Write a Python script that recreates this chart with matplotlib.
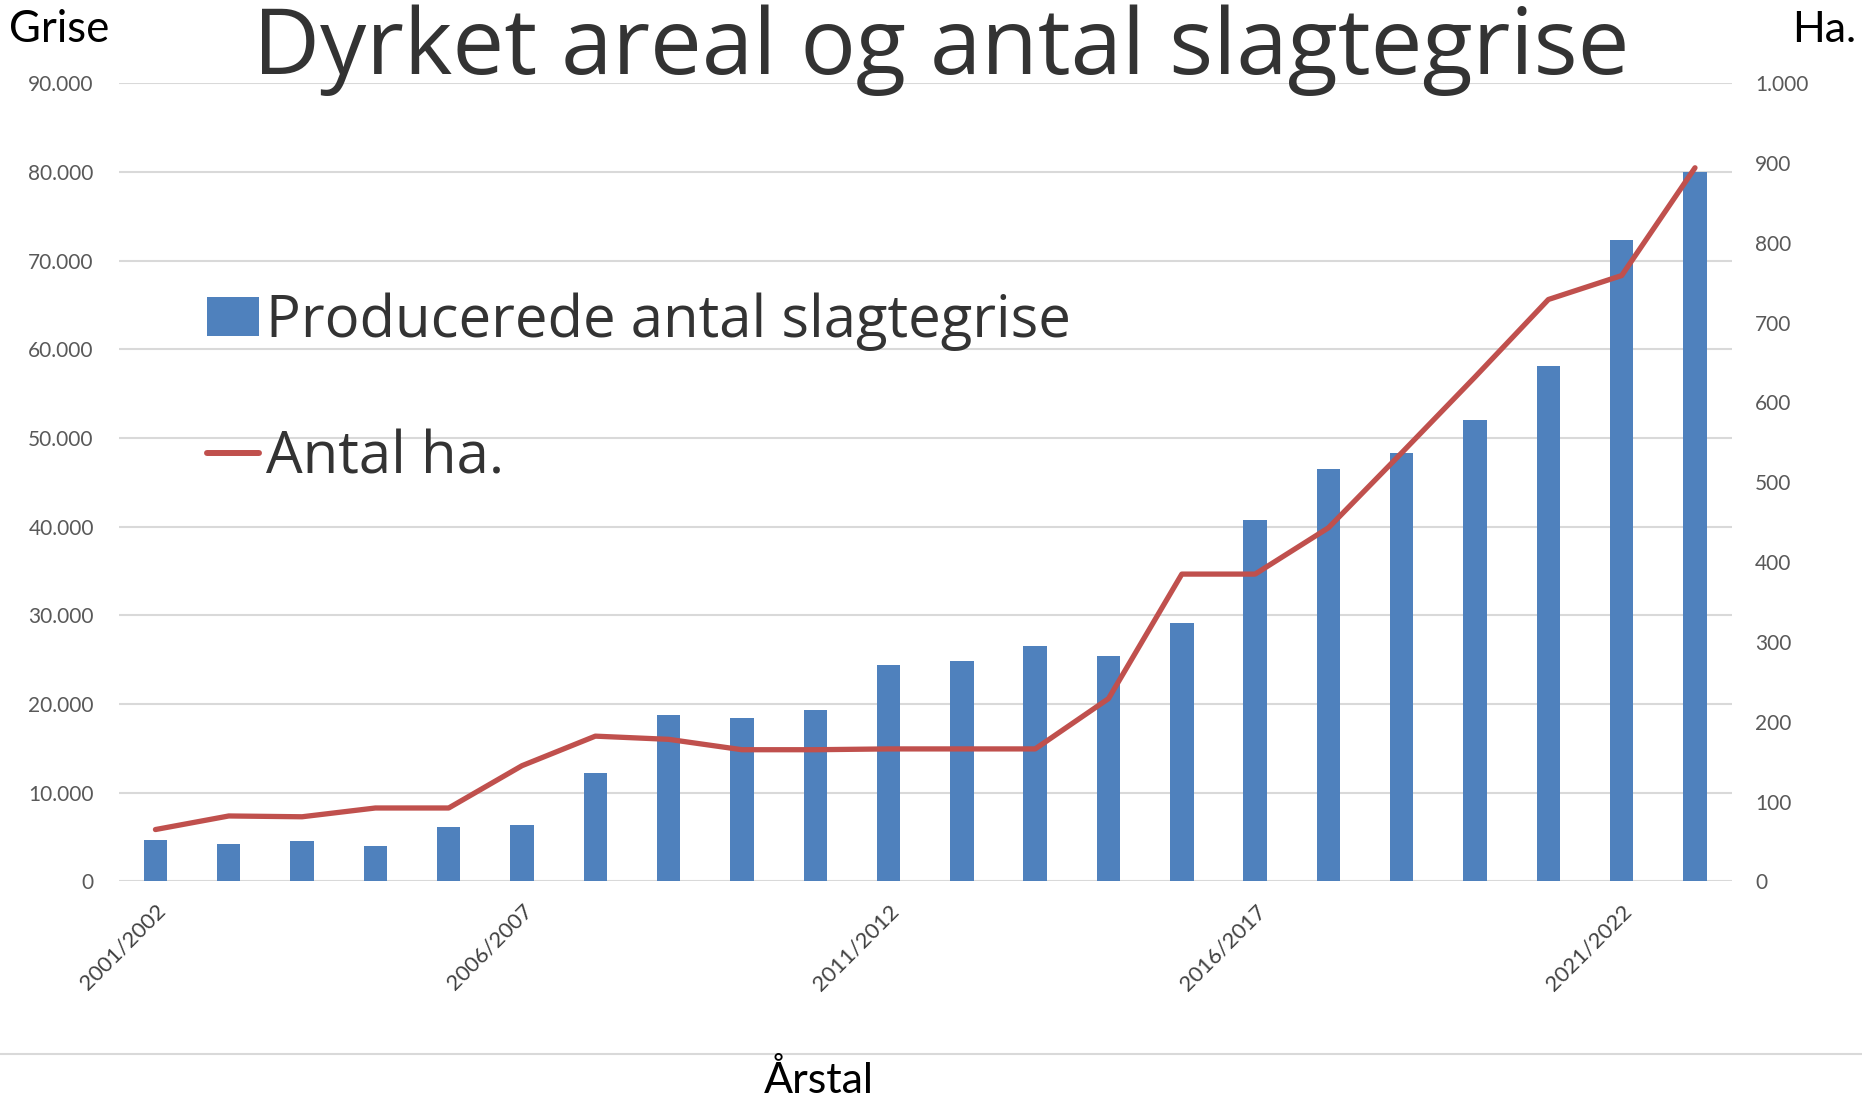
import matplotlib
matplotlib.use("Agg")
import matplotlib.pyplot as plt
from matplotlib.lines import Line2D

# Høstår 2001/2002 .. 2022/2023
seasons = [f"{y}/{y + 1}" for y in range(2001, 2023)]
slagtegrise = [4700, 4200, 4600, 4000, 6100, 6400, 12200, 18750, 18400, 19300,
               24400, 24900, 26500, 25400, 29100, 40800, 46500, 48300, 52000,
               58100, 72300, 80000]
antal_ha = [65, 82, 81, 92, 92, 145, 182, 178, 165, 165, 166, 166, 166, 229,
            385, 385, 443, 537, 632, 729, 759, 894]
tick_every = 5

bar_color = '#4F81BD'
line_color = '#C0504D'
grid_color = '#D9D9D9'

fig = plt.figure(figsize=(18.62, 11.0), dpi=100)
ax = fig.add_axes([0.0638, 0.1987, 0.8662, 0.7257])
ax2 = ax.twinx()

x = list(range(len(seasons)))
bars = ax.bar(x, slagtegrise, width=0.32, color=bar_color, zorder=2,
              label='Producerede antal slagtegrise')
line, = ax2.plot(x, antal_ha, color=line_color, lw=3.8, solid_capstyle='round',
                 label='Antal ha.', zorder=3)

ax.set_xlim(-0.5, len(seasons) - 0.5)
ax.set_ylim(0, 90000)
ax2.set_ylim(0, 1000)
ax.set_yticks(range(0, 90001, 10000))
ax.set_yticklabels([f"{v:,}".replace(',', '.') for v in range(0, 90001, 10000)])
ax2.set_yticks(range(0, 1001, 100))
ax2.set_yticklabels([f"{v:,}".replace(',', '.') for v in range(0, 1001, 100)])
ax.set_xticks(x[::tick_every])
ax.set_xticklabels(seasons[::tick_every], rotation=45, ha='right',
                   rotation_mode='anchor')

ax.grid(axis='y', color=grid_color, lw=1.5, zorder=0)
ax.set_axisbelow(True)
for a in (ax, ax2):
    for s in a.spines.values():
        s.set_visible(False)
    a.tick_params(length=0, labelsize=15, labelcolor='#595959')
    for t in a.get_yticklabels() + a.get_xticklabels():
        t.set_family('Lato')
ax.tick_params(axis='y', pad=18)
ax2.tick_params(axis='y', pad=17)
ax.tick_params(axis='x', pad=14, labelcolor='#404040', labelsize=15.8)

fig.text(0.5054, 0.933, 'Dyrket areal og antal slagtegrise', ha='center',
         va='baseline', fontsize=66.4, color='#333333', family='Open Sans')
fig.text(0.005, 0.962, 'Grise', ha='left', va='baseline', fontsize=31.5,
         color='black', family='Lato')
fig.text(0.997, 0.962, 'Ha.', ha='right', va='baseline', fontsize=31,
         color='black', family='Lato')
fig.text(0.44, 0.006, 'Årstal', ha='center', va='baseline', fontsize=31,
         color='black', family='Lato')
fig.add_artist(Line2D([0, 1], [0.042, 0.042], color=grid_color, lw=1.5))

leg = ax.legend([bars, line], ['Producerede antal slagtegrise', 'Antal ha.'],
                loc='upper left', bbox_to_anchor=(0.022, 0.803), frameon=False,
                handlelength=0.9, handleheight=0.66,
                handletextpad=0.13, labelspacing=1.34,
                prop={'family': 'Open Sans', 'size': 41.8})
for t in leg.get_texts():
    t.set_color('#333333')
for h in leg.get_lines():
    h.set_linewidth(4.3)

fig.savefig('out.png', dpi=100)
